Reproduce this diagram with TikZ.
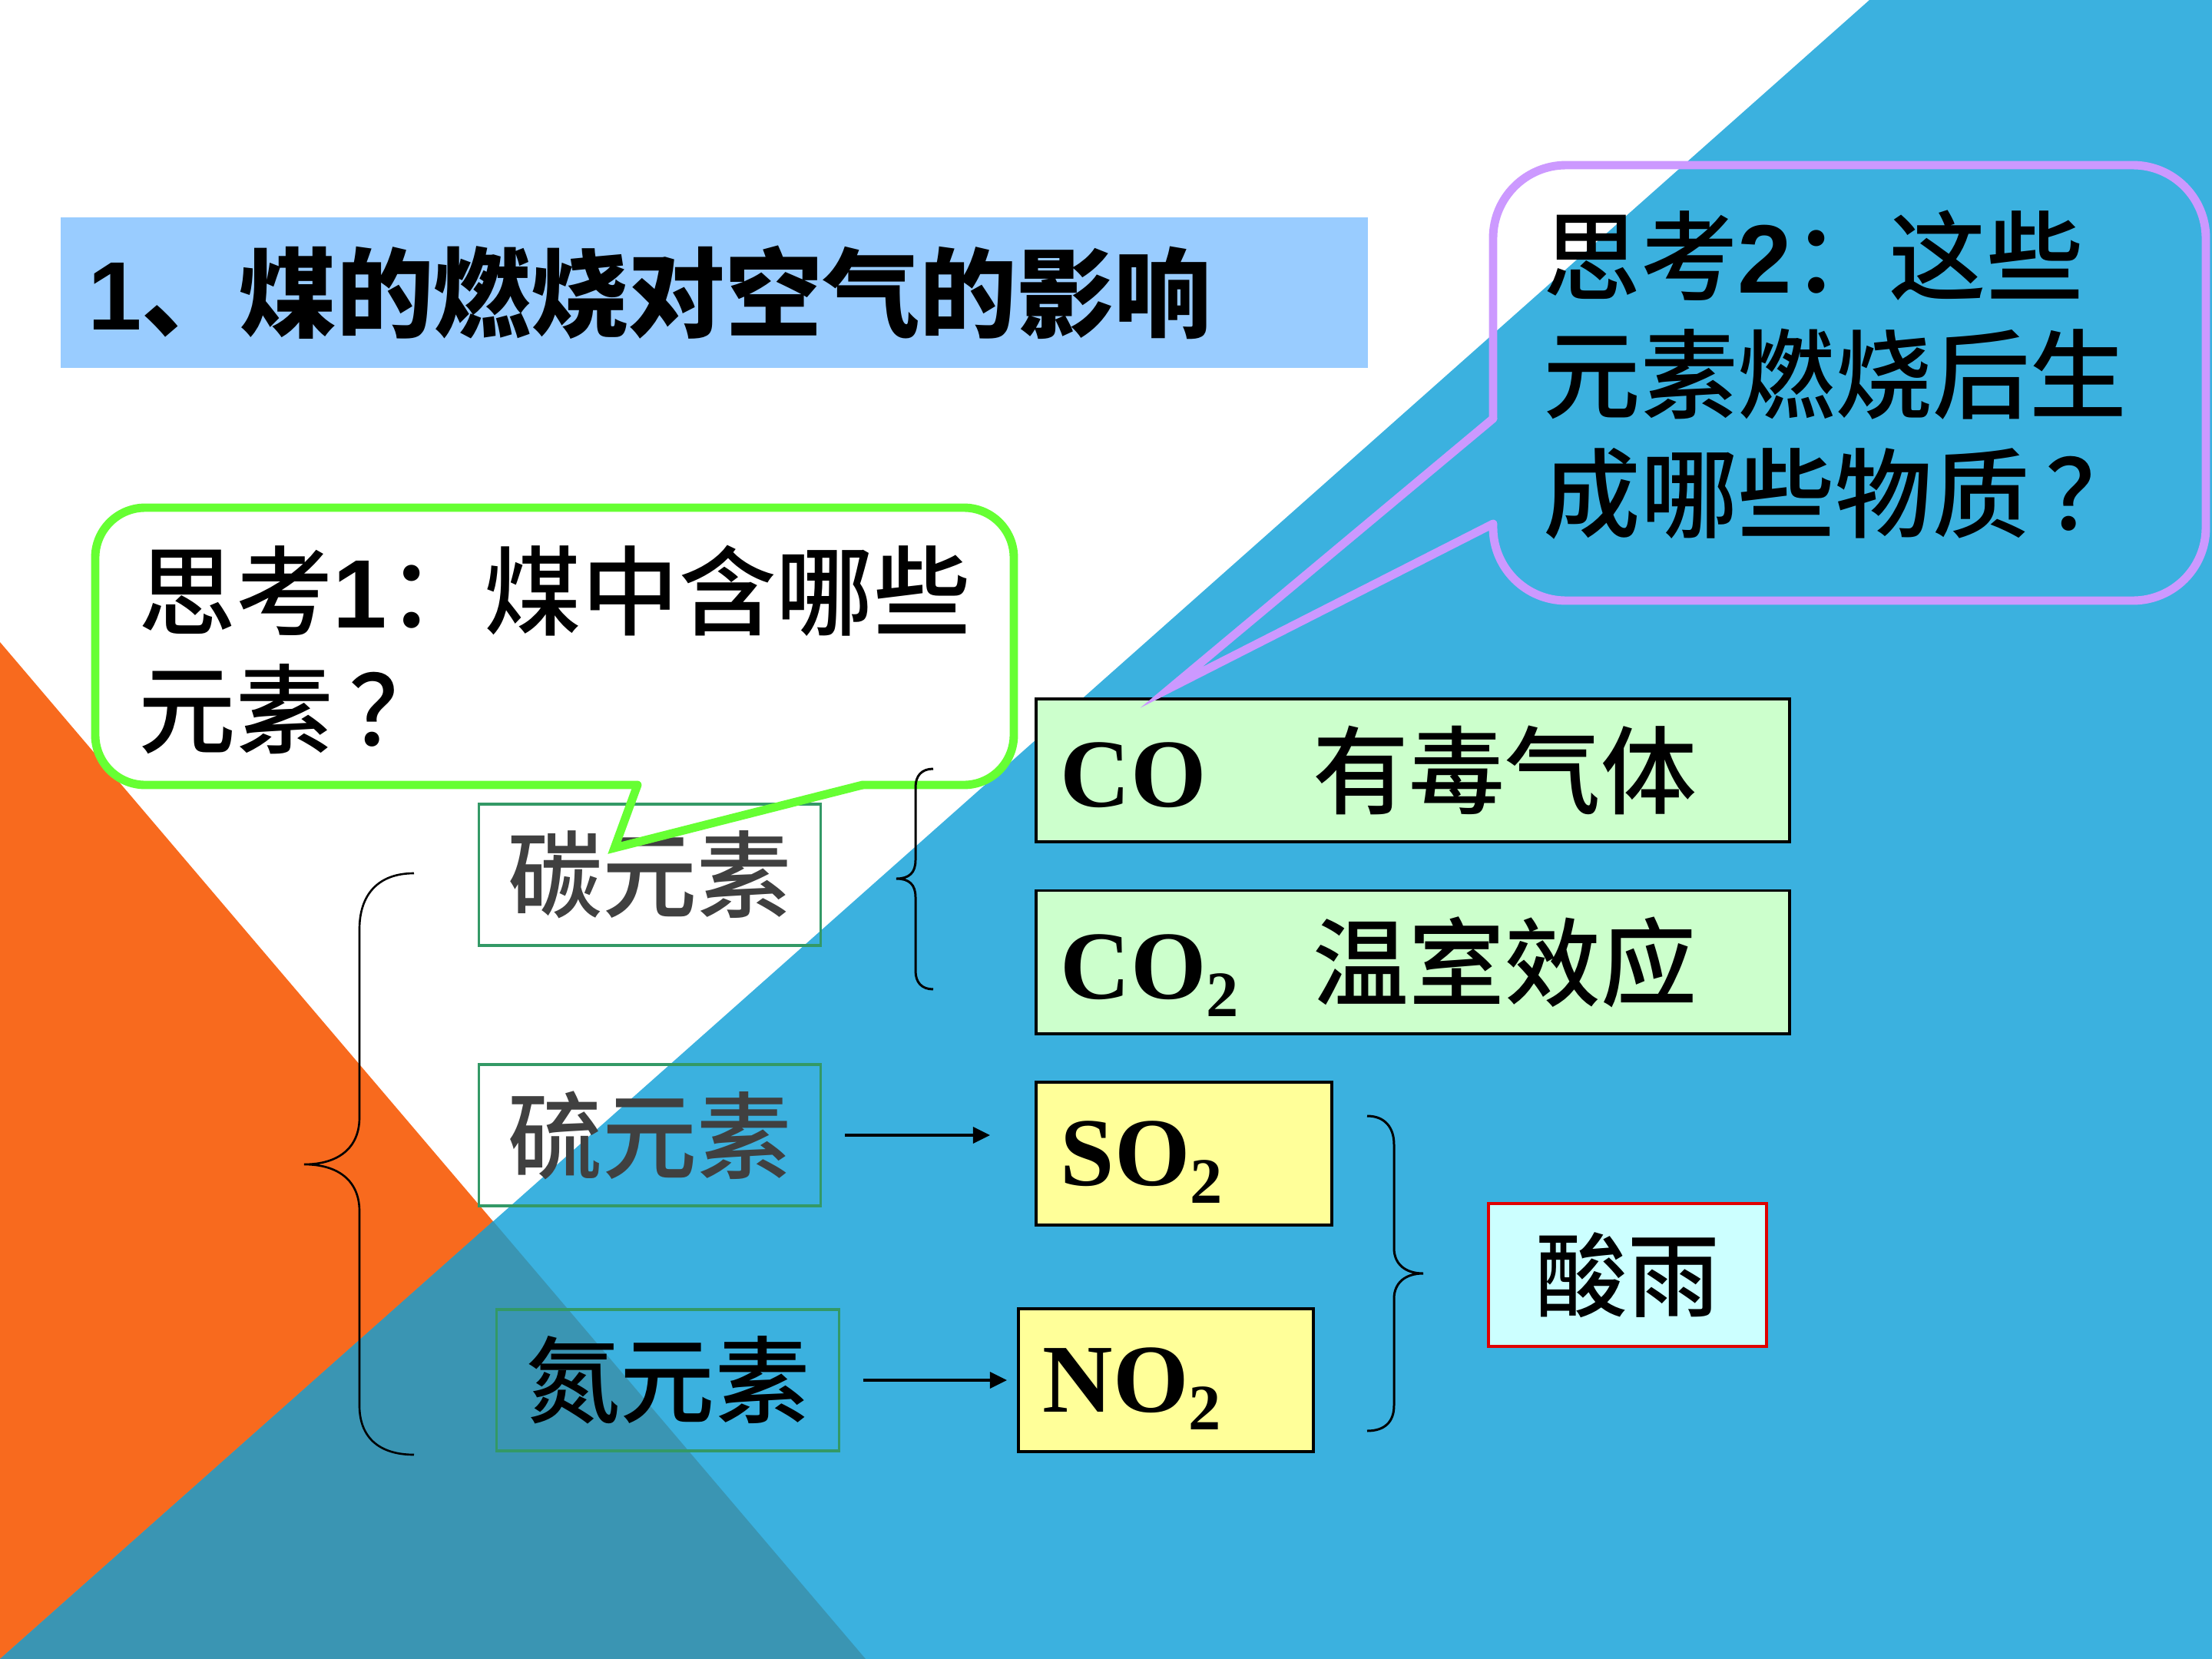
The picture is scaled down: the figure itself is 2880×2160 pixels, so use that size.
\documentclass[tikz,border=0pt]{standalone}
\usepackage{fontspec}
\newfontfamily\cjk{Noto Sans CJK SC}
\newfontfamily\cjkmed{Noto Sans CJK SC}[UprightFont={* Medium}]
\newfontfamily\tnr{Liberation Serif}
\newfontfamily\arial{Liberation Sans}
\usetikzlibrary{arrows.meta}

\definecolor{bgorange}{HTML}{F86A1E}
\definecolor{bgblue}{HTML}{3BB1DF}
\definecolor{bgteal}{HTML}{3A95B3}
\definecolor{titleblue}{HTML}{99CCFF}
\definecolor{callgreen}{HTML}{66FF33}
\definecolor{callpurple}{HTML}{CC99FF}
\definecolor{elemgreen}{HTML}{339966}
\definecolor{elemtext}{HTML}{404040}
\definecolor{cofill}{HTML}{CCFFCC}
\definecolor{sofill}{HTML}{FFFF99}
\definecolor{acidfill}{HTML}{CCFFFF}
\definecolor{acidred}{HTML}{E00000}

\newcommand\chemsub[1]{\raisebox{-6.5pt}[0pt][0pt]{\fontsize{24}{24}\selectfont #1}}
\newcommand\formula[1]{\makebox[3.29cm][l]{\tnr\bfseries\fontsize{36}{36}\selectfont #1}}

\tikzset{
  titlebar/.style={fill=titleblue, minimum height=1.96cm, text width=16.29cm,
    inner xsep=0.36cm, inner ysep=0pt, align=left,
    font=\cjk\bfseries\fontsize{36}{36}\selectfont},
  elembox/.style={draw=elemgreen, line width=0.9pt, minimum width=4.45cm,
    minimum height=1.84cm, inner sep=0pt, text=elemtext,
    font=\cjkmed\fontsize{35}{35}\selectfont},
  prodbox/.style={draw=black, line width=1.1pt, minimum height=1.86cm,
    inner xsep=0.32cm, inner ysep=0pt, align=left,
    font=\cjkmed\fontsize{35.5}{36}\selectfont},
  question/.style={anchor=west, inner sep=0pt, align=left,
    font=\cjkmed\fontsize{36}{44}\selectfont},
  greencall/.style={draw=callgreen, line width=3.1pt, line cap=round},
  purplecall/.style={draw=callpurple, line width=3.1pt, line cap=round},
  bracket/.style={draw=black, line width=0.85pt},
  arr/.style={-{Triangle[length=0.22cm,width=0.21cm]}, line width=0.9pt},
}

\begin{document}
\begin{tikzpicture}[x=0.01cm, y=-0.01cm]
  \useasboundingbox (0,0) rectangle (2880,2160);
  % background
  \fill[bgorange] (0,836) -- (1127,2160) -- (0,2160) -- cycle;
  \fill[bgblue] (2434,0) -- (2880,0) -- (2880,2160) -- (0,2160) -- cycle;
  \fill[bgteal] (642,1590) -- (1127,2160) -- (0,2160) -- cycle;

  \node[titlebar] (title) at (929.5,381) {{\arial\bfseries 1}、煤的燃烧对空气的影响};

  % question 1
  \fill[white, rounded corners=0.65cm] (124,661) rectangle (1320,1022);
  \draw[greencall, rounded corners=0.65cm]
    (830,1022) -- (124,1022) -- (124,661) -- (1320,661) -- (1320,1022) -- (1123,1022);
  \node[question] (q1) at (180,846)
    {思考{\arial\bfseries 1}：煤中含哪些\\元素\,？};

  % elements
  \node[elembox] (carbon) at (846,1139) {碳元素};
  \node[elembox] (sulfur) at (846,1478) {硫元素};
  \node[elembox, text=black] (nitrogen) at (869.5,1797) {氮元素};

  \draw[greencall, line join=miter] (830,1022) -- (800,1104) -- (1123,1022);

  % braces
  \draw[bracket, line width=0.75pt] (539,1137) .. controls (492,1137) and (468,1165) .. (468,1210)
    -- (468,1455) .. controls (468,1495) and (440,1516) .. (396,1516)
    .. controls (440,1516) and (468,1537) .. (468,1577)
    -- (468,1830) .. controls (468,1870) and (492,1894) .. (539,1894);
  \draw[bracket] (1215,1001) .. controls (1200,1001) and (1192,1010) .. (1192,1025)
    -- (1192,1120) .. controls (1192,1136) and (1184,1144) .. (1167,1144)
    .. controls (1184,1144) and (1192,1152) .. (1192,1168)
    -- (1192,1264) .. controls (1192,1279) and (1200,1288) .. (1215,1288);
  \draw[bracket] (1780,1453) .. controls (1803,1453) and (1815,1468) .. (1815,1490)
    -- (1815,1625) .. controls (1815,1646) and (1830,1658) .. (1853,1658)
    .. controls (1830,1658) and (1815,1670) .. (1815,1691)
    -- (1815,1830) .. controls (1815,1851) and (1803,1863) .. (1780,1863);

  % products
  \node[prodbox, fill=cofill, text width=9.17cm] (co) at (1839.5,1003)
    {\formula{CO}有毒气体};
  \node[prodbox, fill=cofill, text width=9.17cm] (co2) at (1839.5,1252.5)
    {\formula{CO\chemsub{2}}温室效应};
  \node[prodbox, fill=sofill, text width=3.21cm] (so2) at (1541.5,1502)
    {\formula{SO\chemsub{2}}};
  \node[prodbox, fill=sofill, text width=3.20cm] (no2) at (1518,1797)
    {\formula{NO\chemsub{2}}};
  \node[draw=acidred, fill=acidfill, line width=1.2pt, minimum width=3.62cm,
    minimum height=1.86cm, inner sep=0pt, font=\cjkmed\fontsize{34}{34}\selectfont]
    (acid) at (2119,1660) {酸雨};

  \draw[arr, shorten <=0.30cm, shorten >=0.58cm] (sulfur.east) -- (sulfur.east -| so2.west);
  \draw[arr, shorten <=0.30cm, shorten >=0.13cm] (nitrogen.east) -- (nitrogen.east -| no2.west);

  % question 2
  \draw[purplecall, rounded corners=0.95cm]
    (1944,545) -- (1944,215) -- (2872,215) -- (2872,782) -- (1944,782) -- (1944,682);
  \draw[purplecall, line join=miter] (1944,545) -- (1525,895) -- (1944,682);
  \node[question] (q2) at (2009,488)
    {思考{\arial\bfseries 2}：这些\\元素燃烧后生\\成哪些物质\,？};
\end{tikzpicture}
\end{document}
